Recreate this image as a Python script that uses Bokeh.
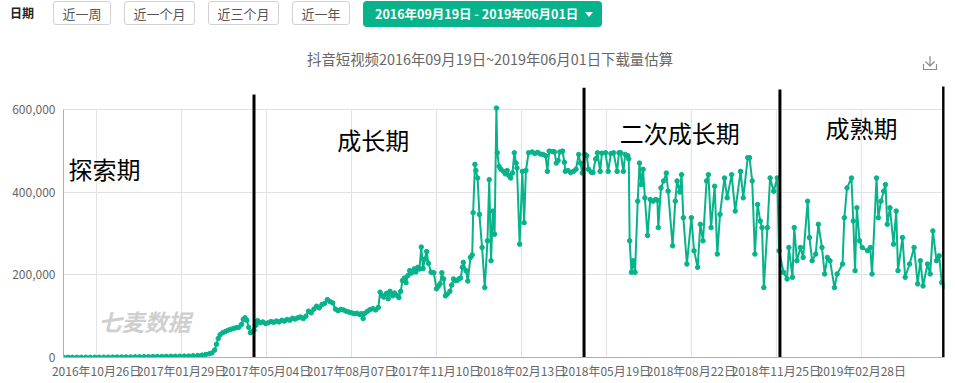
import pandas as pd
from bokeh.plotting import figure
from bokeh.models import Range1d, FixedTicker, NumeralTickFormatter, Label, Div
from bokeh.layouts import column
from bokeh.embed import file_html
from bokeh.resources import INLINE

# ---------------- data ----------------
start_date = "2016-09-19"
end_date = "2019-06-01"

# days since 2016-09-19
day_offsets = [
    0, 5, 10, 15, 20, 25, 30, 35, 40, 45, 50, 55, 60, 65, 70, 75, 80, 85, 90, 95,
    100, 105, 110, 115, 120, 125, 130, 135, 140, 145, 150, 155, 159, 163, 166, 169,
    171, 173, 175, 178, 181, 184, 187, 190, 193, 196, 199, 201, 203, 205, 207, 209, 211,
    213, 215, 217, 220, 223, 226, 229, 232, 235, 238, 241, 244, 247, 250, 253, 256, 259,
    262, 265, 268, 271, 274, 277, 280, 283, 286, 289, 292, 295, 298, 301, 304, 307, 310,
    313, 316, 319, 322, 325, 328, 331, 333, 335, 337, 340, 343, 346, 349, 352, 354, 356,
    358, 361, 363, 365, 368, 370, 373, 375, 377, 379, 381, 383, 385, 387, 389, 392, 394,
    396, 398, 400, 402, 404, 406, 408, 411, 414, 417, 419, 421, 423, 425, 427, 429, 432,
    434, 436, 438, 440, 442, 444, 446, 447, 450, 452, 455, 457, 458, 460, 461, 463, 465,
    468, 471, 474, 476, 478, 480, 482, 484, 485, 487, 489, 492, 494, 496, 498, 500, 502,
    504, 506, 507, 510, 513, 515, 517, 520, 524, 527, 530, 533, 536, 539, 541, 543, 547,
    549, 551, 553, 555, 558, 560, 561, 564, 567, 570, 573, 576, 578, 580, 583,
    585, 587, 590, 592, 595, 597, 600, 602, 606, 609, 612, 615, 619, 621, 623, 626, 628,
    631, 632, 633, 635, 637, 639, 642, 644, 646, 648, 650, 653, 656, 659, 662, 664, 665,
    668, 671, 674, 676, 681, 684, 686, 689, 691, 693, 697, 702, 705, 709, 712, 715, 719,
    721, 724, 728, 731, 734, 739, 742, 747, 751, 757, 760, 765, 767, 770, 773, 776, 779,
    781, 783, 787, 790, 794, 798, 800,
    805, 809, 811, 815, 817, 820, 824, 827, 832, 834, 837, 841, 844, 848, 851, 854, 857,
    862, 865, 871, 873, 876, 881, 883, 885, 887, 890, 893, 899, 902, 904, 909, 911, 914,
    917, 919, 921, 924, 928, 931, 933, 938, 941, 946, 951, 955, 958, 961, 966, 969, 972,
    976, 979, 982, 985,
]

downloads = [
    300, 400, 400, 500, 500, 600, 600, 700, 800, 800, 900, 1000, 1100, 1200, 1300, 1500,
    1600, 1800, 2000, 2100, 2200, 2400, 2500, 2700, 2900, 3000, 3200, 3400, 3700, 4100,
    4800, 5800, 7200, 9000, 11000, 18000, 32000, 46000, 55000, 60000, 63000, 66000, 68000,
    70000, 72000, 73000, 80000, 92000, 96000, 90000, 73000, 60000, 62000,
    66000, 78000, 89000, 84000, 86000, 82000, 84000, 87000, 85000, 88000, 86000, 90000,
    88000, 92000, 90000, 95000, 93000, 96000, 98000, 94000, 100000, 112000, 108000, 117000,
    124000, 120000, 128000, 131000, 140000, 135000, 132000, 117000, 113000, 116000, 115000,
    112000, 110000, 108000, 106000, 107000, 104000, 106000, 94000, 107000, 112000, 116000,
    118000, 115000, 121000, 158000, 150000, 146000, 155000, 142000, 160000, 149000, 156000,
    150000, 145000, 160000, 186000, 192000, 181000, 198000, 210000, 204000, 214000, 207000,
    218000, 214000, 267000, 215000, 238000, 256000, 228000, 206000, 205000, 166000, 172000,
    178000, 205000, 190000, 149000, 153000, 160000, 175000, 190000, 186000, 186000, 190000,
    192000, 218000, 230000, 210000, 185000, 242000, 248000, 350000, 467000, 452000, 434000,
    346000, 266000, 169000, 282000, 430000, 234000, 354000, 298000, 603000, 495000, 462000,
    455000, 450000, 444000, 452000, 440000, 434000, 446000, 495000, 470000, 458000, 274000,
    450000, 326000, 452000, 495000, 497000, 493000, 496000, 492000, 491000, 488000, 450000,
    499000, 498000, 497000, 470000, 476000, 497000, 499000, 472000, 450000, 452000, 447000,
    450000, 455000, 491000, 470000, 446000, 491000,
    488000, 455000, 448000, 447000, 480000, 495000, 450000, 494000, 495000, 450000, 493000,
    495000, 450000, 495000, 495000, 450000, 491000, 488000, 480000, 282000, 206000, 234000,
    206000, 378000, 470000, 418000, 455000, 386000, 295000, 382000, 378000, 382000, 380000,
    314000, 410000, 427000, 446000, 402000, 270000, 378000, 427000, 400000, 442000, 338000,
    226000, 338000, 258000, 218000, 322000, 282000, 427000, 442000, 314000, 414000, 250000,
    346000, 434000, 386000, 442000, 354000, 450000, 386000, 483000, 483000, 427000, 250000,
    370000, 330000, 314000, 169000, 314000, 434000, 402000, 434000, 258000,
    206000, 190000, 266000, 194000, 314000, 234000, 266000, 242000, 378000, 290000, 234000,
    250000, 322000, 266000, 202000, 242000, 234000, 169000, 202000, 226000, 338000, 410000,
    434000, 330000, 210000, 362000, 282000, 266000, 258000, 266000, 202000, 434000, 338000,
    378000, 402000, 418000, 322000, 362000, 274000, 354000, 210000, 290000, 194000, 226000,
    266000, 178000, 234000, 173000, 226000, 202000, 306000, 234000, 246000, 181000, 173000,
]

tick_labels = [
    "2016年10月26日", "2017年01月29日", "2017年05月04日", "2017年08月07日",
    "2017年11月10日", "2018年02月13日", "2018年05月19日", "2018年08月22日",
    "2018年11月25日", "2019年02月28日",
]
y_ticks = [0, 200000, 400000, 600000]

phase_names = ["探索期", "成长期", "二次成长期", "成熟期"]
phase_bounds = ["2017-04-20", "2018-04-24", "2018-11-29", "2019-05-31"]
phase_line_tops = [636000, 652000, 648000, 655000]

chart_title = "抖音短视频2016年09月19日~2019年06月01日下载量估算"
range_buttons = ["近一周", "近一个月", "近三个月", "近一年"]
date_range_text = "2016年09月19日 - 2019年06月01日"

# ---------------- derived ----------------
start = pd.Timestamp(start_date)
total_days = (pd.Timestamp(end_date) - start).days
tick_days = [(pd.to_datetime(t, format="%Y年%m月%d日") - start).days for t in tick_labels]
bound_days = [(pd.Timestamp(b) - start).days for b in phase_bounds]

GREEN = "#06b38a"
FONT = "Noto Sans CJK SC"

# ---------------- header (HTML) ----------------
btn_lefts = [53, 124, 208, 292]
btn_widths = [58, 71, 71, 58]
parts = []
parts.append(
    '<div style="position:absolute;left:10px;top:2px;height:22px;line-height:22px;'
    'font-size:12px;font-weight:bold;color:#222;">日期</div>'
)
for name, l, w in zip(range_buttons, btn_lefts, btn_widths):
    parts.append(
        f'<div style="position:absolute;left:{l}px;top:1px;width:{w}px;height:24px;'
        f'border:1px solid #d2d2d2;border-radius:3px;background:#fff;color:#555;'
        f'font-size:13px;line-height:24px;text-align:center;">{name}</div>'
    )
parts.append(
    f'<div style="position:absolute;left:363px;top:1px;width:239px;height:26px;'
    f'border-radius:4px;background:{GREEN};"></div>'
)
parts.append(
    f'<div style="position:absolute;left:375px;top:1px;height:26px;line-height:26px;'
    f'font-size:12.5px;font-weight:bold;color:#fff;white-space:nowrap;">{date_range_text}</div>'
)
parts.append(
    '<div style="position:absolute;left:585px;top:12px;width:0;height:0;'
    'border-left:4px solid transparent;border-right:4px solid transparent;'
    'border-top:5px solid #fff;"></div>'
)
parts.append(
    f'<div style="position:absolute;left:307px;top:48px;height:22px;line-height:22px;'
    f'font-size:14.4px;color:#666;white-space:nowrap;">{chart_title}</div>'
)
parts.append(
    '<svg style="position:absolute;left:922px;top:55px;" width="16" height="16" viewBox="0 0 16 16">'
    '<path d="M8 1 V11 M3.5 6.5 L8 11 L12.5 6.5 M1.5 9 V14.5 H14.5 V9" '
    'fill="none" stroke="#8a8a8a" stroke-width="1.2"/></svg>'
)
header_html = (
    f'<div style="position:relative;width:955px;height:80px;font-family:\'{FONT}\';">'
    + "".join(parts) + "</div>"
)
header = Div(text=header_html, width=955, height=80, margin=(0, 0, 0, 0))

# ---------------- chart ----------------
p = figure(
    width=955, height=303,
    x_range=Range1d(0, total_days), y_range=Range1d(0, 660000),
    output_backend="svg", toolbar_location=None,
    min_border_left=63, min_border_right=11, min_border_top=4, min_border_bottom=26,
    margin=(0, 0, 0, 0),
)
p.title = None
p.outline_line_color = None
p.background_fill_color = "#ffffff"
p.border_fill_color = "#ffffff"

# grid
p.xgrid.visible = False
p.ygrid.ticker = FixedTicker(ticks=y_ticks)
p.ygrid.grid_line_color = "#e2e2e2"
p.ygrid.grid_line_width = 1
p.segment(x0=tick_days, y0=[y_ticks[0]] * len(tick_days), x1=tick_days,
          y1=[y_ticks[-1]] * len(tick_days), line_color="#e2e2e2", line_width=1)

# axes
p.xaxis.ticker = FixedTicker(ticks=tick_days)
p.xaxis.major_label_overrides = {d: t for d, t in zip(tick_days, tick_labels)}
p.yaxis.ticker = FixedTicker(ticks=y_ticks)
p.yaxis.formatter = NumeralTickFormatter(format="0,0")
p.yaxis.bounds = (y_ticks[0], y_ticks[-1])
for ax in (p.xaxis, p.yaxis):
    ax.axis_line_color = "#a9b0bc"
    ax.axis_line_width = 1
    ax.major_tick_line_color = None
    ax.minor_tick_line_color = None
    ax.major_tick_out = 0
    ax.major_tick_in = 0
    ax.major_label_text_font = FONT
    ax.major_label_text_font_size = "12px"
    ax.major_label_text_color = "#666666"
p.xaxis.major_label_standoff = 4
p.yaxis.major_label_standoff = 8

# watermark
p.add_layout(Label(x=39, y=89000, text="七麦数据", text_font=FONT, text_font_size="23px",
                   text_font_style="bold italic", text_color="#cfcfcf",
                   text_baseline="middle"))

# series
p.line(day_offsets, downloads, line_color=GREEN, line_width=2)
p.scatter(day_offsets, downloads, size=4.5, fill_color=GREEN, line_color=GREEN)

# phase dividers
p.segment(x0=bound_days, y0=[0] * len(bound_days), x1=bound_days, y1=phase_line_tops,
          line_color="#000000", line_width=3)

# phase names
phase_label_pos = [(5.5, 457000), (306, 526000), (622, 545000), (852, 557000)]
for name, (lx, ly) in zip(phase_names, phase_label_pos):
    p.add_layout(Label(x=lx, y=ly, text=name, text_font=FONT, text_font_size="24px",
                       text_color="#000000", text_baseline="middle"))

layout = column(header, p, spacing=0, margin=(0, 0, 0, 0))
open("out.html", "w").write(file_html(layout, INLINE))
